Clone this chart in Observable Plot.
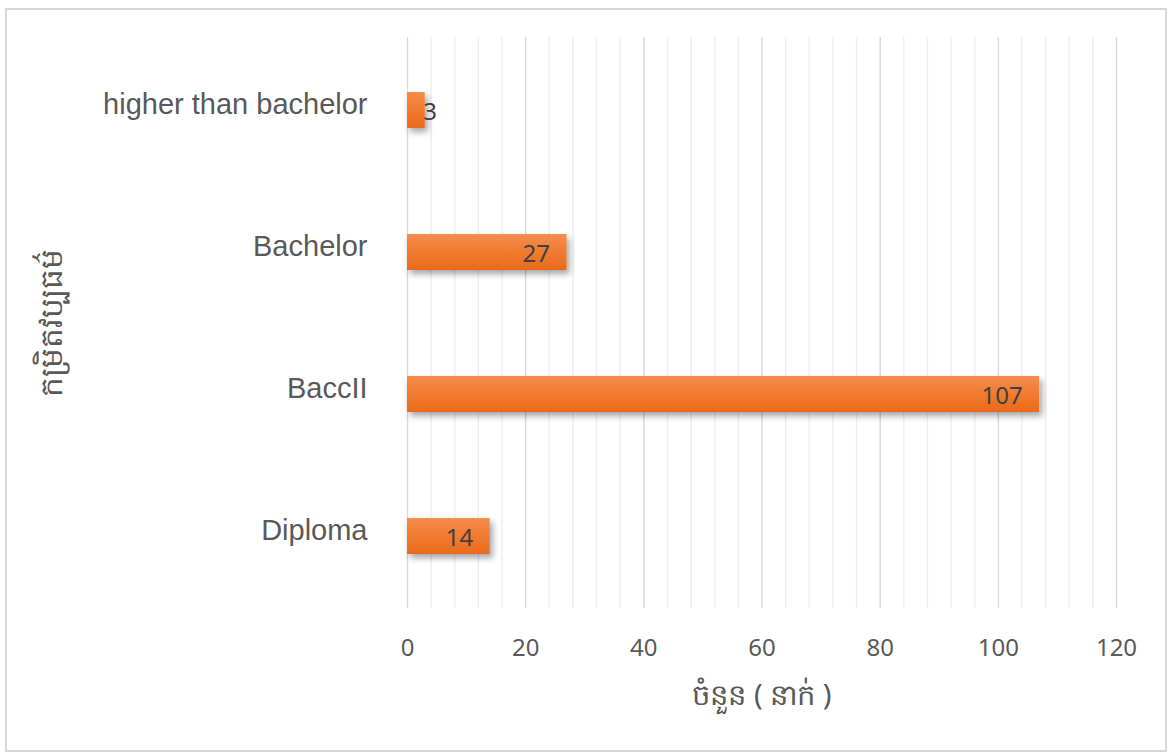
<!DOCTYPE html>
<html>
<head>
<meta charset="utf-8">
<script src="https://cdn.jsdelivr.net/npm/d3@7"></script>
<script src="https://cdn.jsdelivr.net/npm/@observablehq/plot@0.6"></script>
<style>
  html, body { margin: 0; padding: 0; background: #fff; }
  #wrap { position: relative; width: 1168px; height: 753px; }
  #frame { position: absolute; left: 5px; top: 8px; width: 1158px; height: 740px; border: 2px solid #d9d9d9; pointer-events: none; }
  #chart { position: absolute; left: 0; top: 0; }
</style>
</head>
<body>
<div id="wrap"><div id="chart"></div><div id="frame"></div></div>
<script>
const categories = ["higher than bachelor", "Bachelor", "BaccII", "Diploma"];
const values = [3, 27, 107, 14];
const xTicks = [0, 20, 40, 60, 80, 100, 120];
const minorTicks = d3.range(0, 121, 4);
const xTitle = "ចំនួន ( នាក់ )";
const yTitle = "កម្រិតវប្បធម៌";

const data = categories.map((c, i) => ({category: c, value: values[i]}));

const defs = () => {
  const d = d3.create("svg:defs");
  const g = d.append("linearGradient").attr("id", "barGrad").attr("x1", 0).attr("y1", 0).attr("x2", 0).attr("y2", 1);
  g.append("stop").attr("offset", "0%").attr("stop-color", "#f48d4e");
  g.append("stop").attr("offset", "50%").attr("stop-color", "#f27a30");
  g.append("stop").attr("offset", "100%").attr("stop-color", "#ea6a1a");
  const f = d.append("filter").attr("id", "shadow").attr("x", "-10%").attr("y", "-30%").attr("width", "130%").attr("height", "190%");
  f.append("feDropShadow").attr("dx", 3).attr("dy", 4).attr("stdDeviation", 3).attr("flood-color", "#000").attr("flood-opacity", 0.35);
  return d.node();
};

const chart = Plot.plot({
  width: 1168,
  height: 753,
  marginLeft: 407,
  marginRight: 52,
  marginTop: 37,
  marginBottom: 145,
  style: {background: "transparent", overflow: "visible"},
  x: {domain: [0, 120]},
  y: {domain: categories, paddingInner: 0.75, paddingOuter: 0.375},
  marks: [
    defs,
    Plot.ruleX(minorTicks.filter(t => t % 20 !== 0), {stroke: "#efefef", strokeWidth: 1.5}),
    Plot.ruleX(xTicks, {stroke: "#d9d9d9", strokeWidth: 1.5}),
    Plot.axisX({ticks: xTicks, tickSize: 0, tickPadding: 30, label: null, fontSize: 24, fontFamily: "Noto Sans, Open Sans, sans-serif", color: "#595959"}),
    Plot.axisY({tickSize: 0, tickPadding: 40, dy: -6, label: null, fontSize: 29, fontFamily: "Liberation Sans, Arial, sans-serif", color: "#595959"}),
    Plot.barX(data, {x: "value", y: "category", fill: "url(#barGrad)"}),
    Plot.text(data.filter(d => d.value >= 10), {x: "value", y: "category", text: d => String(d.value), textAnchor: "end", dx: -17, dy: 2, fontSize: 24, fontFamily: "Noto Sans, Open Sans, sans-serif", fill: "#404040"}),
    Plot.text(data.filter(d => d.value < 10), {x: "value", y: "category", text: d => String(d.value), textAnchor: "start", dx: -2, dy: 2, fontSize: 24, fontFamily: "Noto Sans, Open Sans, sans-serif", fill: "#404040"}),
    Plot.text([xTitle], {frameAnchor: "bottom", dy: 96, text: d => d, fontSize: 29, fontFamily: "Noto Sans, sans-serif", fill: "#595959"}),
    Plot.text([yTitle], {frameAnchor: "left", textAnchor: "middle", dx: -355, rotate: -90, text: d => d, fontSize: 31, fontFamily: "Noto Sans, sans-serif", fill: "#595959"})
  ]
});

d3.select(chart).selectAll("g[aria-label=bar]").attr("filter", "url(#shadow)");
document.getElementById("chart").appendChild(chart);
</script>
</body>
</html>
